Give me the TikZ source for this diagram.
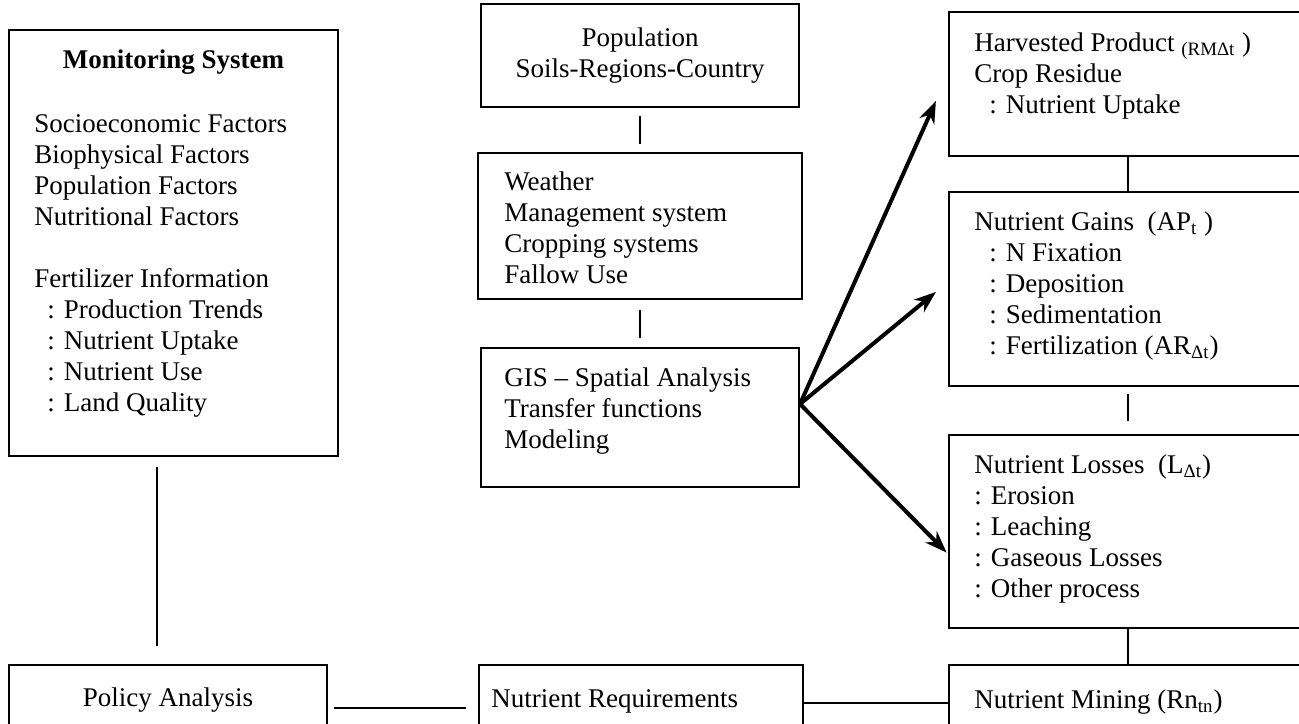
\documentclass[tikz,border=0pt]{standalone}
\usepackage{fontspec}
\setmainfont{Liberation Serif}
\usetikzlibrary{positioning,arrows.meta}

\begin{document}
\begin{tikzpicture}[x=0.5pt, y=-0.5pt,
  every node/.style={font=\fontsize{13.5pt}{15.5pt}\selectfont},
  box/.style={draw, line width=1pt, inner sep=0pt},
  txt/.style={inner sep=0pt, align=left},
  link/.style={line width=1pt},
  arr/.style={line width=2pt, -{Stealth[length=11pt, width=8pt, inset=3.5pt]}}]
\useasboundingbox (0,0) rectangle (1299,723);
\clip (0,0) rectangle (1299,723);

% boxes
\node (mon) [box, minimum width=164.5pt, minimum height=213pt] at (173.5,243) {};
\node (pop) [box, minimum width=159pt, minimum height=51.5pt, align=center] at (640,55.5) {Population\\Soils-Regions-Country};
\node (wea) [box, minimum width=162pt, minimum height=73pt] at (640,226) {};
\node (gis) [box, minimum width=159pt, minimum height=69.5pt] at (640,417.5) {};
\node (harv) [box, minimum width=179pt, minimum height=72pt] at (1128,84) {};
\node (gain) [box, minimum width=179pt, minimum height=97pt] at (1128,289) {};
\node (loss) [box, minimum width=179pt, minimum height=96.5pt] at (1128,531.5) {};
\node (pol) [box, minimum width=159pt, minimum height=35pt] at (168,700) {Policy Analysis};
\node (req) [box, minimum width=162pt, minimum height=35pt] at (641,700) {};
\node (mine) [box, minimum width=179pt, minimum height=35pt] at (1128,700) {};

% texts
\node (montitle) [txt, below=10.25pt of mon.north] {\bfseries Monitoring System};
\node (monlist) [txt, below right=42.75pt and 13pt of mon.north west] {Socioeconomic Factors\\Biophysical Factors\\Population Factors\\Nutritional Factors\\[15.5pt]Fertilizer Information\\\hspace*{6.5pt}: Production Trends\\\hspace*{6.5pt}: Nutrient Uptake\\\hspace*{6.5pt}: Nutrient Use\\\hspace*{6.5pt}: Land Quality};
\node (weatxt) [txt, below right=9.75pt and 13.5pt of wea.north west] {Weather\\Management system\\Cropping systems\\Fallow Use};
\node (gistxt) [txt, below right=10.25pt and 12pt of gis.north west] {GIS – Spatial Analysis\\Transfer functions\\Modeling};
\node (harvtxt) [txt, below right=10.75pt and 13pt of harv.north west] {Harvested Product \textsubscript{(RMΔt}\ )\\Crop Residue\\\hspace*{7.5pt}: Nutrient Uptake};
\node (gaintxt) [txt, below right=10.25pt and 13pt of gain.north west] {Nutrient Gains\ \ (AP\textsubscript{t}\ )\\\hspace*{7.5pt}: N Fixation\\\hspace*{7.5pt}: Deposition\\\hspace*{7.5pt}: Sedimentation\\\hspace*{7.5pt}: Fertilization (AR\textsubscript{Δt})};
\node (losstxt) [txt, below right=10.25pt and 13pt of loss.north west] {Nutrient Losses\ \ (L\textsubscript{Δt})\\: Erosion\\: Leaching\\: Gaseous Losses\\: Other process};
\node (reqtxt) [txt, below right=12.75pt and 6.5pt of req.north west] {Nutrient Requirements};
\node (minetxt) [txt, below right=12.75pt and 13pt of mine.north west] {Nutrient Mining (Rn\textsubscript{tn})};

% connectors
\draw[link, shorten <=4pt, shorten >=4pt] (pop) -- (wea);
\draw[link, shorten <=5pt, shorten >=4.5pt] (wea) -- (gis);
\draw[link] (harv) -- (gain);
\draw[link, shorten <=3.5pt, shorten >=6.5pt] (gain) -- (loss);
\draw[link] (loss) -- (mine);
\draw[link, shorten <=5pt, shorten >=9pt] ([xshift=-8.25pt]mon.south) -- ([xshift=-5.5pt]pol.north);
\draw[link, shorten <=3pt, shorten >=6pt] ([yshift=-4pt]pol.east) -- ([yshift=-4pt]req.west);
\draw[link] ([yshift=-1.5pt]req.east) -- ([yshift=-1.5pt]mine.west);

% arrows
\draw[arr, shorten >=14.8pt] ([yshift=6.75pt]gis.east) -- ([yshift=5pt]harv.west);
\draw[arr, shorten >=7.8pt] ([yshift=6.75pt]gis.east) -- ([yshift=3.5pt]gain.west);
\draw[arr, shorten >=1pt] ([yshift=6.75pt]gis.east) -- ([yshift=-11.25pt]loss.west);
\end{tikzpicture}
\end{document}
